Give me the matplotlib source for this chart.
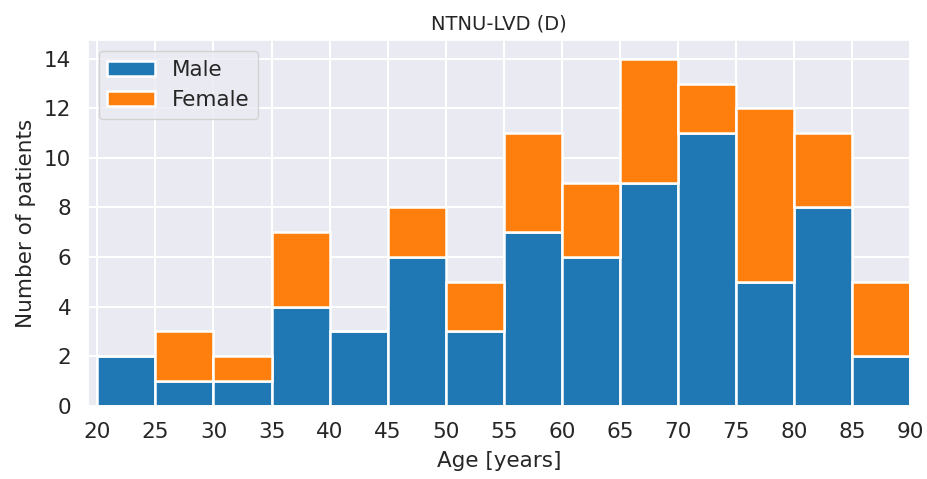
import matplotlib
matplotlib.use("Agg")
import matplotlib.pyplot as plt
import numpy as np
import seaborn as sns

sns.set_theme(style="darkgrid")
plt.rcParams["font.family"] = ["DejaVu Sans"]
plt.rcParams["grid.linewidth"] = 1.5

bin_edges = [20, 25, 30, 35, 40, 45, 50, 55, 60, 65, 70, 75, 80, 85, 90]
male = [2, 1, 1, 4, 3, 6, 3, 7, 6, 9, 11, 5, 8, 2]
female = [0, 2, 1, 3, 0, 2, 2, 4, 3, 5, 2, 7, 3, 3]

left = np.array(bin_edges[:-1])
width = np.diff(bin_edges)

fig, ax = plt.subplots(figsize=(9.27, 4.79), dpi=100)
ax.bar(left, male, width=width, align="edge", color="#1f77b4",
       edgecolor="white", linewidth=1.8, label="Male")
ax.bar(left, female, width=width, bottom=male, align="edge", color="#ff7f0e",
       edgecolor="white", linewidth=1.8, label="Female")

ax.set_xlim(19.2, 90)
ax.set_ylim(0, 14.75)
ax.set_xticks(bin_edges)
ax.set_yticks(range(0, 15, 2))
ax.tick_params(labelsize=15.5, pad=6)
ax.set_xlabel("Age [years]", fontsize=15.5, labelpad=6)
ax.set_ylabel("Number of patients", fontsize=15.5, labelpad=6)
ax.set_title("NTNU-LVD (D)", fontsize=14, pad=8)
ax.legend(loc="upper left", fontsize=15.5, handlelength=2.2)

fig.subplots_adjust(left=0.095, right=0.982, top=0.916, bottom=0.153)
fig.savefig("out.png", dpi=100)
